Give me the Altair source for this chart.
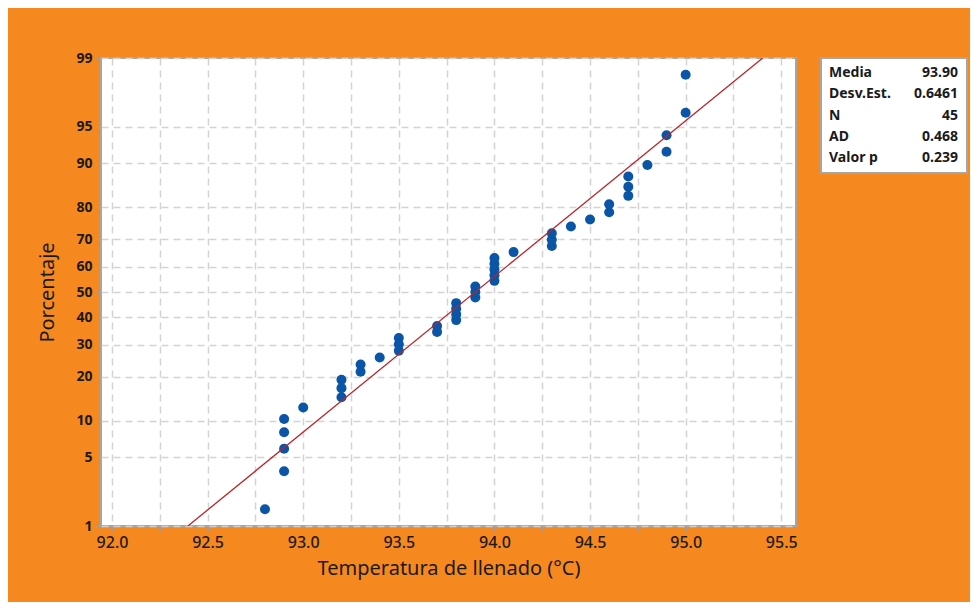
import altair as alt
import pandas as pd
from statistics import NormalDist

# ---- data ----
temps = [92.8,
         92.9, 92.9, 92.9, 92.9,
         93.0,
         93.2, 93.2, 93.2,
         93.3, 93.3,
         93.4,
         93.5, 93.5, 93.5,
         93.7, 93.7,
         93.8, 93.8, 93.8, 93.8,
         93.9, 93.9, 93.9,
         94.0, 94.0, 94.0, 94.0, 94.0,
         94.1,
         94.3, 94.3, 94.3,
         94.4,
         94.5,
         94.6, 94.6,
         94.7, 94.7, 94.7,
         94.8,
         94.9, 94.9,
         95.0, 95.0]
pcts = [1.54, 3.74, 5.95, 8.15, 10.35, 12.56, 14.76, 16.96, 19.16, 21.37,
        23.57, 25.77, 27.97, 30.18, 32.38, 34.58, 36.78, 38.99, 41.19, 43.39,
        45.59, 47.80, 50.00, 52.20, 54.41, 56.61, 58.81, 61.01, 63.22, 65.42,
        67.62, 69.82, 72.03, 74.23, 76.43, 78.63, 80.84, 83.04, 85.24, 87.44,
        89.65, 91.85, 94.05, 96.26, 98.46]
y_tick_pcts = [1, 5, 10, 20, 30, 40, 50, 60, 70, 80, 90, 95, 99]
x_tick_vals = [92.0, 92.25, 92.5, 92.75, 93.0, 93.25, 93.5, 93.75, 94.0,
               94.25, 94.5, 94.75, 95.0, 95.25, 95.5]
stat_names = ["Media", "Desv.Est.", "N", "AD", "Valor p"]
stat_values = ["93.90", "0.6461", "45", "0.468", "0.239"]
mean_val, sd_val = 93.90, 0.6461

# ---- derived tables ----
nd = NormalDist()
df = pd.DataFrame({"temp": temps, "pct": pcts})
df["z"] = [nd.inv_cdf(p / 100.0) for p in pcts]
zlo, zhi = nd.inv_cdf(0.01), nd.inv_cdf(0.99)
line_df = pd.DataFrame({"z": [zlo, zhi]})
line_df["temp"] = mean_val + sd_val * line_df["z"]

tick_z = [nd.inv_cdf(p / 100.0) for p in y_tick_pcts]
expr = "'%d'" % y_tick_pcts[-1]
for k in range(len(tick_z) - 2, -1, -1):
    mid = (tick_z[k] + tick_z[k + 1]) / 2
    expr = "datum.value < %f ? '%d' : (%s)" % (mid, y_tick_pcts[k], expr)

stats_df = pd.DataFrame({"name": stat_names, "val": stat_values,
                         "i": list(range(len(stat_names)))})
box_df = pd.DataFrame({"k": [0]})

FONT = "Noto Sans"
TXT = "#1a1a1a"

xscale = alt.Scale(domain=[91.9425, 95.577], nice=False, zero=False)
yscale = alt.Scale(domain=[zlo, zhi], nice=False, zero=False)

points = alt.Chart(df).mark_circle(size=100, color="#0A55A5", opacity=1).encode(
    x=alt.X("temp:Q", scale=xscale,
            axis=alt.Axis(values=x_tick_vals, tickCount=40,
                          title="Temperatura de llenado (°C)",
                          labelExpr="abs(datum.value*2 - round(datum.value*2)) < 0.01 ? format(datum.value, '.1f') : ''",
                          labelFontSize=16, labelFont=FONT, labelColor=TXT,
                          labelFontWeight=500,
                          labelPadding=3, tickSize=5, tickColor="#A0A0A0",
                          titleFontSize=20, titleFont=FONT, titleColor=TXT,
                          titleFontWeight="normal", titlePadding=8,
                          grid=True, gridDash=[7, 5], gridColor="#D3D3D3",
                          gridWidth=1.5, domain=False, labelFlush=False,
                          labelOverlap=False)),
    y=alt.Y("z:Q", scale=yscale,
            axis=alt.Axis(values=tick_z, tickCount=40, labelExpr=expr,
                          title="Porcentaje",
                          labelFontSize=14, labelFont=FONT, labelFontWeight="bold",
                          labelColor=TXT, labelPadding=4, tickSize=5,
                          tickColor="#A0A0A0",
                          titleFontSize=20, titleFont=FONT, titleColor=TXT,
                          titleFontWeight="normal", titlePadding=18,
                          grid=True, gridDash=[7, 5], gridColor="#D3D3D3",
                          gridWidth=1.5, domain=False, labelFlush=False,
                          labelOverlap=False)),
)

line = alt.Chart(line_df).mark_line(color="#B5262B", strokeWidth=1.3, clip=True).encode(
    x=alt.X("temp:Q", scale=xscale),
    y=alt.Y("z:Q", scale=yscale),
)

box = alt.Chart(box_df).mark_rect(fill="white", stroke="#A6A6A6", strokeWidth=2,
                                  clip=False).encode(
    x=alt.value(720), x2=alt.value(866), y=alt.value(0), y2=alt.value(115))

names = alt.Chart(stats_df).mark_text(align="left", baseline="middle", font=FONT,
                                      fontSize=14, fontWeight="bold", color=TXT,
                                      clip=False).transform_calculate(
    py="datum.i * 21.3 + 15").encode(
    x=alt.value(728), y=alt.Y("py:Q", scale=None), text="name:N")

vals = alt.Chart(stats_df).mark_text(align="right", baseline="middle", font=FONT,
                                     fontSize=14, fontWeight="bold", color=TXT,
                                     clip=False).transform_calculate(
    py="datum.i * 21.3 + 15").encode(
    x=alt.value(857), y=alt.Y("py:Q", scale=None), text="val:N")

chart = alt.layer(points, line, box, names, vals).properties(
    width=695, height=468,
    background="#F5891F",
    autosize=alt.AutoSizeParams(type="none"),
    padding={"left": 93, "top": 50, "right": 174, "bottom": 76},
).configure_view(fill="white", stroke="#A6A6A6", strokeWidth=2)

chart.save("out.html", embed_options={"renderer": "svg", "actions": False})
